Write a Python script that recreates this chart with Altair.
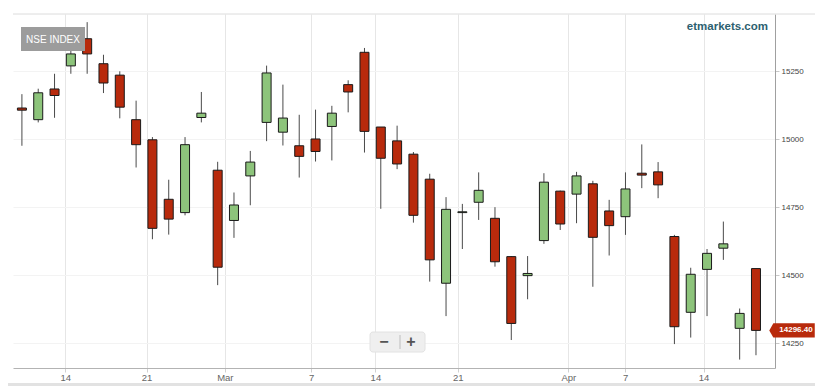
import json
import altair as alt
import pandas as pd

# ---- data (trading-day index 0..45) ----
days = list(range(46))
opens = [15115, 15072, 15185, 15270, 15370, 15278, 15236, 15072, 14998, 14779,
         14730, 15080, 14886, 14701, 14865, 15062, 15026, 14976, 15001, 15047,
         15201, 15320, 15045, 14994, 14945, 14853, 14470, 14730, 14768, 14709,
         14568, 14498, 14627, 14809, 14798, 14836, 14736, 14715, 14875, 14880,
         14642, 14363, 14521, 14599, 14304, 14524]
highs = [15166, 15186, 15241, 15345, 15431, 15311, 15250, 15142, 15008, 14851,
         15008, 15174, 14917, 14804, 14957, 15271, 15201, 15090, 15109, 15123,
         15217, 15336, 15045, 15050, 14953, 14873, 14787, 14762, 14878, 14750,
         14570, 14570, 14875, 14811, 14880, 14847, 14777, 14878, 14981, 14916,
         14648, 14527, 14596, 14697, 14377, 14524]
lows = [14976, 15062, 15079, 15241, 15241, 15170, 15077, 14896, 14632, 14649,
        14720, 15062, 14463, 14637, 14757, 14993, 14977, 14859, 14918, 14922,
        15099, 14951, 14744, 14890, 14693, 14476, 14349, 14596, 14703, 14531,
        14261, 14411, 14615, 14666, 14691, 14457, 14572, 14648, 14820, 14783,
        14246, 14270, 14349, 14556, 14189, 14205]
closes = [15107, 15171, 15161, 15314, 15314, 15207, 15118, 14980, 14672, 14706,
          14980, 15096, 14529, 14758, 14916, 15244, 15078, 14937, 14955, 15096,
          15174, 15029, 14930, 14909, 14720, 14556, 14742, 14733, 14812, 14549,
          14322, 14506, 14842, 14688, 14865, 14639, 14682, 14817, 14868, 14832,
          14310, 14503, 14580, 14615, 14359, 14296.40]

tick_pos = [2.66, 7.64, 12.44, 17.73, 21.67, 26.72, 33.5, 36.98, 41.79]
tick_labels = ["14", "21", "Mar", "7", "14", "21", "Apr", "7", "14"]
y_ticks = [14250, 14500, 14750, 15000, 15250]
x_domain = [-0.24, 45.86]
y_domain = [14158, 15461]

title_text = "NSE INDEX"
brand_text = "etmarkets.com"
last_close = closes[-1]

UP, DOWN = "#8dc47b", "#b82a0c"
FONT = "Liberation Sans"

df = pd.DataFrame({"day": days, "open": opens, "high": highs,
                   "low": lows, "close": closes})
df["dir"] = ["up" if c >= o else "down" for o, c in zip(opens, closes)]

xscale = alt.Scale(domain=x_domain, nice=False, zero=False)
yscale = alt.Scale(domain=y_domain, nice=False, zero=False)

label_expr = "{}[indexof({}, datum.value)]".format(json.dumps(tick_labels), json.dumps(tick_pos))

xaxis = alt.Axis(values=tick_pos, labelExpr=label_expr, grid=True,
                 gridColor="#e6e6e6", domainColor="#b3b3b3",
                 tickColor="#d0d0d0", tickSize=4, labelPadding=0,
                 labelColor="#666666", labelFontSize=9.5, labelFont=FONT,
                 labelFlush=False, labelOverlap=False, title=None)
yaxis = alt.Axis(orient="right", values=y_ticks, format="d", grid=True,
                 gridColor="#f3f3f3", domainColor="#a0a0a0",
                 tickColor="#c8c8c8", tickSize=4, labelPadding=2,
                 labelColor="#444444", labelFontSize=8, labelFont=FONT, title=None)

base = alt.Chart(df)

wicks = base.mark_rule(color="#4a4a4a", strokeWidth=1).encode(
    x=alt.X("day:Q", scale=xscale, axis=xaxis, title=None),
    y=alt.Y("low:Q", scale=yscale, axis=yaxis, title=None),
    y2="high:Q",
)

bodies = base.mark_bar(size=9, stroke="#1a1a1a", strokeWidth=1).encode(
    x=alt.X("day:Q", scale=xscale, axis=xaxis, title=None),
    y=alt.Y("open:Q", scale=yscale, axis=yaxis, title=None),
    y2="close:Q",
    fill=alt.Fill("dir:N", scale=alt.Scale(domain=["up", "down"], range=[UP, DOWN]), legend=None),
)

# decorations
deco_df = pd.DataFrame({"a": [0]})
top_line = alt.Chart(deco_df).mark_rule(color="#dcdcdc").encode(
    x=alt.value(0), x2=alt.value(802), y=alt.value(0))
bottom_band = alt.Chart(deco_df).mark_rect(color="#e2e2e2").encode(
    x=alt.value(-5), x2=alt.value(802), y=alt.value(369), y2=alt.value(372))

title_df = pd.DataFrame({"t": [title_text]})
title_box = alt.Chart(title_df).mark_rect(color="#9c9c9c").encode(
    x=alt.value(8), x2=alt.value(72), y=alt.value(13), y2=alt.value(37))
title_txt = alt.Chart(title_df).mark_text(color="white", fontSize=10, font=FONT,
                                          align="center", baseline="middle").encode(
    x=alt.value(40), y=alt.value(25.5), text="t:N")

brand = alt.Chart(pd.DataFrame({"t": [brand_text]})).mark_text(
    color="#2d5f70", fontSize=11.5, fontWeight="bold", font=FONT,
    align="right", baseline="middle").encode(
    x=alt.value(755), y=alt.value(13), text="t:N")

price_df = pd.DataFrame({"price": [last_close], "label": [f"{last_close:.2f}"]})
arrow_path = "M -1 0 L -0.82 -0.31 L 1 -0.31 L 1 0.31 L -0.82 0.31 Z"
price_box = alt.Chart(price_df).mark_point(shape=arrow_path, size=2070, filled=True,
                                           color=DOWN, opacity=1).encode(
    x=alt.value(779), y=alt.Y("price:Q", scale=yscale, axis=yaxis, title=None))
price_txt = alt.Chart(price_df).mark_text(color="white", fontSize=8, fontWeight="bold",
                                          font=FONT, align="center", baseline="middle").encode(
    x=alt.value(783), y=alt.Y("price:Q", scale=yscale, axis=yaxis, title=None), text="label:N")

zoom_df = pd.DataFrame({"s": ["\u2212", "+"], "px": [371, 398]})
zoom_box = alt.Chart(zoom_df.head(1)).mark_rect(fill="#efefef", stroke="#e2e2e2",
                                                cornerRadius=3).encode(
    x=alt.value(357), x2=alt.value(412), y=alt.value(318), y2=alt.value(338))
zoom_sep = alt.Chart(zoom_df.head(1)).mark_rule(color="#bdbdbd").encode(
    x=alt.value(387), y=alt.value(321), y2=alt.value(335))
zoom_minus = alt.Chart(zoom_df.head(1)).mark_text(color="#555555", fontSize=16, fontWeight="bold",
                                                  font=FONT, align="center", baseline="middle").encode(
    x=alt.value(371), y=alt.value(328), text="s:N")
zoom_plus = alt.Chart(zoom_df.tail(1)).mark_text(color="#555555", fontSize=16, fontWeight="bold",
                                                 font=FONT, align="center", baseline="middle").encode(
    x=alt.value(398), y=alt.value(328), text="s:N")

chart = alt.layer(
    top_line, bottom_band, wicks, bodies, title_box, title_txt, brand,
    price_box, price_txt, zoom_box, zoom_sep, zoom_minus, zoom_plus
).properties(
    width=762, height=354,
    padding={"left": 5, "top": 6, "right": 56, "bottom": 18},
    autosize=alt.AutoSizeParams(type="none"),
    background="white",
).configure_view(strokeWidth=0)

chart.save("out.html", embed_options={"renderer": "svg", "actions": False})
